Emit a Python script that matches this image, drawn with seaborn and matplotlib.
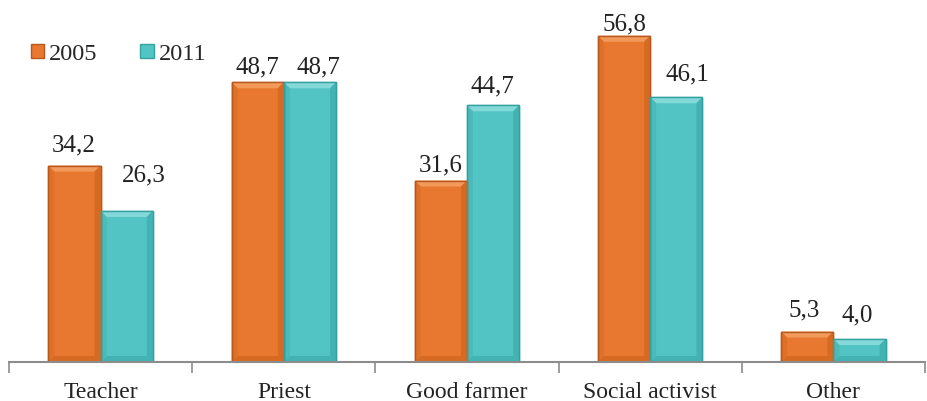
import matplotlib
matplotlib.use("Agg")
import matplotlib.pyplot as plt
from matplotlib.patches import Patch, Polygon
import seaborn as sns
import pandas as pd

categories = ["Teacher", "Priest", "Good farmer", "Social activist", "Other"]
years = ["2005", "2011"]
values_2005 = [34.2, 48.7, 31.6, 56.8, 5.3]
values_2011 = [26.3, 48.7, 44.7, 46.1, 4.0]

# hand-placed value label offsets (dx, dy in pixels from bar top centre)
label_offsets_2005 = [(-1, 15), (0, 10), (0, 10), (0, 6), (-3, 16)]
label_offsets_2011 = [(17, 30), (9, 10), (-1, 14), (11, 18), (-2, 19)]

df = pd.DataFrame({
    "category": categories * 2,
    "year": [years[0]] * len(categories) + [years[1]] * len(categories),
    "value": values_2005 + values_2011,
})

sns.set_theme(style="white")
plt.rcParams["font.family"] = ["Liberation Serif", "DejaVu Serif"]

palette = {"2005": "#E8782F", "2011": "#52C4C4"}
edges = {"2005": "#B9581C", "2011": "#34A0A0"}
lights = {"2005": "#F29A5C", "2011": "#84D8D8"}
darks = {"2005": "#D66A23", "2011": "#43B2B2"}

W, H = 928, 402
fig = plt.figure(figsize=(W / 100, H / 100), dpi=100)
ax_left, ax_bottom, ax_w, ax_h = 9, 39, 916, 363
ax = fig.add_axes([ax_left / W, ax_bottom / H, ax_w / W, ax_h / H])

YMAX = 63.2
sns.barplot(data=df, x="category", y="value", hue="year", order=categories,
            hue_order=years, palette=palette, width=0.57, saturation=1,
            legend=False, ax=ax)
ax.set_ylim(0, YMAX)
ax.set_xlim(-0.5, 4.5)

px_x = 5 / ax_w       # data units per pixel, x
px_y = YMAX / ax_h    # data units per pixel, y
bev = 6

for container, yr, offs in zip(ax.containers, years, [label_offsets_2005, label_offsets_2011]):
    for bar, (dx, dy) in zip(container, offs):
        bar.set_edgecolor(edges[yr])
        bar.set_linewidth(1.0)
        x0, y0 = bar.get_x(), bar.get_y()
        w, h = bar.get_width(), bar.get_height()
        bx, by = bev * px_x, min(bev * px_y, h / 2)
        z = bar.get_zorder() + 0.1
        # bevel: light top face, darker sides and bottom
        ax.add_patch(Polygon([(x0, y0 + h), (x0 + w, y0 + h), (x0 + w - bx, y0 + h - by),
                              (x0 + bx, y0 + h - by)], closed=True,
                             facecolor=lights[yr], edgecolor="none", zorder=z))
        ax.add_patch(Polygon([(x0 + w, y0 + h), (x0 + w, y0), (x0 + w - bx, y0 + by),
                              (x0 + w - bx, y0 + h - by)], closed=True,
                             facecolor=darks[yr], edgecolor="none", zorder=z))
        ax.add_patch(Polygon([(x0, y0 + h), (x0, y0), (x0 + bx, y0 + by),
                              (x0 + bx, y0 + h - by)], closed=True,
                             facecolor=darks[yr], edgecolor="none", alpha=0.5, zorder=z))
        ax.add_patch(Polygon([(x0, y0), (x0 + w, y0), (x0 + w - bx, y0 + by),
                              (x0 + bx, y0 + by)], closed=True,
                             facecolor=darks[yr], edgecolor="none", zorder=z))
        ax.add_patch(Polygon([(x0, y0), (x0 + w, y0), (x0 + w, y0 + h), (x0, y0 + h)],
                             closed=True, facecolor="none", edgecolor=edges[yr],
                             linewidth=1.0, zorder=z + 0.1))
        ax.annotate(f"{h:.1f}".replace(".", ","), xy=(x0 + w / 2, y0 + h),
                    xytext=(dx * 0.72, dy * 0.72), textcoords="offset points",
                    ha="center", va="baseline", fontsize=18, color="#222222")

ax.set_xlabel("")
ax.set_ylabel("")
ax.set_yticks([])
ax.set_xticks(range(len(categories)))
ax.set_xticklabels(categories, fontsize=17, color="#222222")
ax.set_xticks([i - 0.5 for i in range(len(categories) + 1)], minor=True)
ax.tick_params(axis="x", which="major", length=0, pad=13.5)
ax.tick_params(axis="x", which="minor", length=8, width=1.2, color="#8C8C8C",
               direction="out", bottom=True)
for side in ["left", "right", "top"]:
    ax.spines[side].set_visible(False)
ax.spines["bottom"].set_color("#8C8C8C")
ax.spines["bottom"].set_linewidth(1.5)
ax.spines["bottom"].set_zorder(5)

handles = [Patch(facecolor=palette[y], edgecolor=edges[y], label=y) for y in years]
ax.legend(handles=handles, loc="center left", bbox_to_anchor=(22 / ax_w, 1 - 55 / ax_h), ncol=2,
          frameon=False, fontsize=17.5, handlelength=0.55, handleheight=0.55,
          handletextpad=0.2, columnspacing=1.75, borderpad=0, borderaxespad=0)

fig.savefig("out.png", dpi=100)
